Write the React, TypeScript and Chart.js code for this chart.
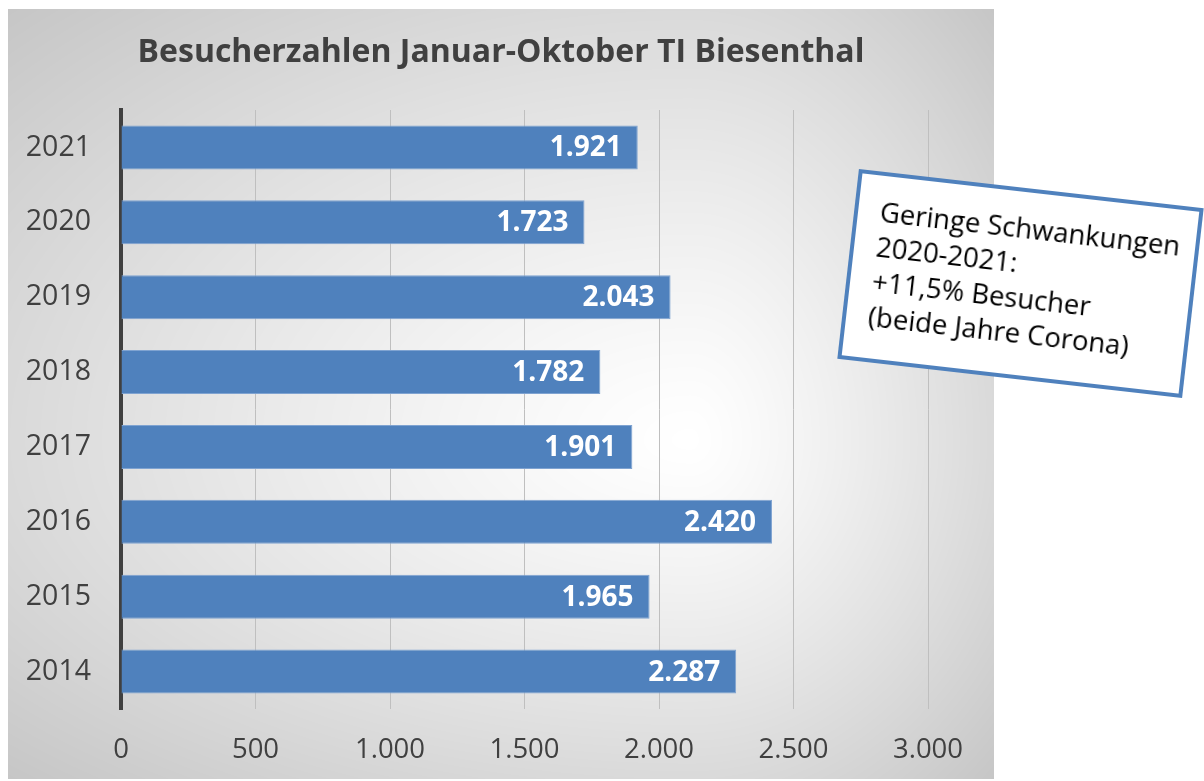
import React, { useEffect, useRef } from "react";
import { Chart, registerables } from "chart.js";

Chart.register(...registerables);

const years = ["2021", "2020", "2019", "2018", "2017", "2016", "2015", "2014"];
const visitors = [1921, 1723, 2043, 1782, 1901, 2420, 1965, 2287];
const titleText = "Besucherzahlen Januar-Oktober TI Biesenthal";
const noteLines = ["Geringe Schwankungen", "2020-2021:", "+11,5% Besucher", "(beide Jahre Corona)"];

const CW = 986;
const CH = 770;

function fmt(v: number): string {
  const s = Math.round(v).toString();
  return s.replace(/\B(?=(\d{3})+(?!\d))/g, ".");
}

function makeBackground(w: number, h: number): HTMLCanvasElement {
  const c = document.createElement("canvas");
  c.width = w;
  c.height = h;
  const ctx = c.getContext("2d")!;
  const img = ctx.createImageData(w, h);
  const cx = 682, cy = 431;
  const rxl = cx * 1.414, rxr = (w - cx) * 1.414;
  const ryt = cy * 1.414, ryb = (h - cy) * 1.414;
  for (let y = 0; y < h; y++) {
    for (let x = 0; x < w; x++) {
      const dx = (x - cx) / (x < cx ? rxl : rxr);
      const dy = (y - cy) / (y < cy ? ryt : ryb);
      let t = Math.sqrt(dx * dx + dy * dy);
      if (t > 1) t = 1;
      const v = Math.round(255 - 57 * Math.pow(t, 1.2));
      const i = (y * w + x) * 4;
      img.data[i] = v;
      img.data[i + 1] = v;
      img.data[i + 2] = v;
      img.data[i + 3] = 255;
    }
  }
  ctx.putImageData(img, 0, 0);
  return c;
}

export default function App() {
  const ref = useRef<HTMLCanvasElement | null>(null);

  useEffect(() => {
    if (!ref.current) return;
    const bg = makeBackground(CW, CH);

    const bgPlugin = {
      id: "bgPlugin",
      beforeDraw(chart: any) {
        const ctx = chart.ctx;
        ctx.save();
        ctx.drawImage(bg, 0, 0, chart.width, chart.height);
        ctx.restore();
      },
      afterDraw(chart: any) {
        const ctx = chart.ctx;
        ctx.save();
        ctx.font = "bold 32px 'Open Sans'";
        ctx.fillStyle = "#404040";
        ctx.textAlign = "center";
        ctx.textBaseline = "middle";
        ctx.fillText(titleText, chart.width / 2, 44);
        ctx.restore();
      },
    };

    const labelPlugin = {
      id: "labelPlugin",
      afterDatasetsDraw(chart: any) {
        const ctx = chart.ctx;
        const meta = chart.getDatasetMeta(0);
        ctx.save();
        ctx.font = "bold 28px 'Open Sans'";
        ctx.fillStyle = "#ffffff";
        ctx.textAlign = "right";
        ctx.textBaseline = "middle";
        meta.data.forEach((bar: any, i: number) => {
          ctx.fillText(fmt(visitors[i]), bar.x - 16, bar.y + 1);
        });
        ctx.restore();
      },
    };

    const chart = new Chart(ref.current, {
      type: "bar",
      data: {
        labels: years,
        datasets: [
          {
            data: visitors,
            backgroundColor: "#4F81BD",
            borderColor: "#7fa3d1",
            borderWidth: 1,
            barPercentage: 0.587,
            categoryPercentage: 1,
          },
        ],
      },
      options: {
        indexAxis: "y",
        animation: false,
        responsive: false,
        devicePixelRatio: 1,
        layout: { padding: { left: 0, right: 66, top: 101, bottom: 0 } },
        plugins: {
          legend: { display: false },
          title: { display: false },
          tooltip: { enabled: false },
        },
        scales: {
          x: {
            min: 0,
            max: 3000,
            ticks: {
              stepSize: 500,
              padding: 25,
              color: "#404040",
              font: { family: "'Open Sans'", size: 27.5 },
              callback: (v: any) => fmt(Number(v)),
            },
            grid: { color: "#bfbfbf", lineWidth: 1, drawTicks: false },
            border: { display: false },
            afterFit: (scale: any) => {
              scale.height = 70;
            },
          },
          y: {
            ticks: {
              padding: 30,
              color: "#404040",
              font: { family: "'Open Sans'", size: 28.5, lineHeight: 1.35 },
            },
            grid: { display: false, drawTicks: false },
            border: { display: true, color: "#404040", width: 4 },
            afterFit: (scale: any) => {
              scale.width = 113;
            },
          },
        },
      },
      plugins: [bgPlugin, labelPlugin],
    } as any);

    return () => chart.destroy();
  }, []);

  return (
    <div
      style={{
        position: "fixed",
        left: 0,
        top: 0,
        width: 1204,
        height: 781,
        background: "#ffffff",
        overflow: "hidden",
      }}
    >
      <canvas
        ref={ref}
        width={CW}
        height={CH}
        style={{ position: "absolute", left: 8, top: 9, width: CW, height: CH }}
      />
      <div
        style={{
          position: "absolute",
          left: 846.5,
          top: 187.5,
          width: 347,
          height: 191,
          boxSizing: "border-box",
          border: "4px solid #4F81BD",
          background: "#ffffff",
          transform: "rotate(6.5deg)",
          fontFamily: "'Open Sans'",
          fontSize: 27.5,
          lineHeight: "35px",
          color: "#000000",
          padding: "18px 0 0 22px",
          whiteSpace: "nowrap",
        }}
      >
        {noteLines.map((l, i) => (
          <div key={i}>{l}</div>
        ))}
      </div>
    </div>
  );
}
